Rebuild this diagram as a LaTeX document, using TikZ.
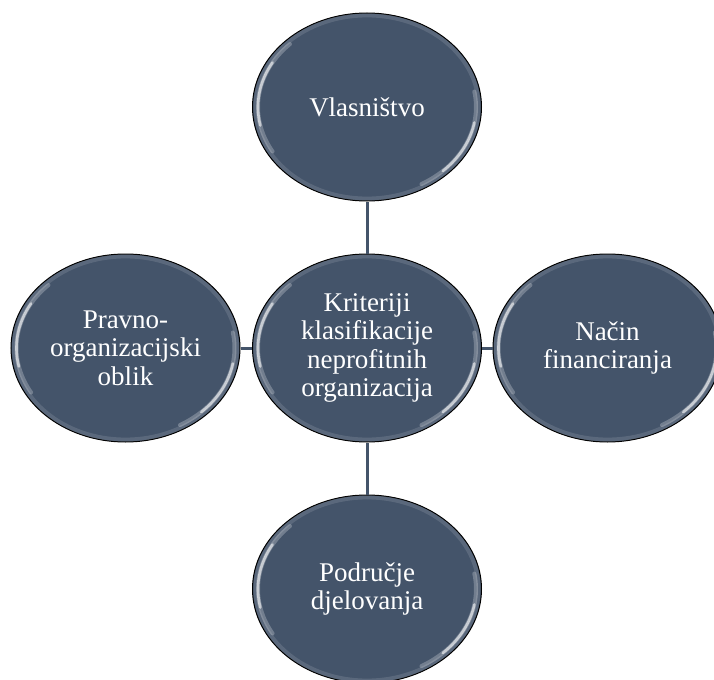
\documentclass[tikz,border=0pt]{standalone}
\usepackage{fontspec}
\setmainfont{Liberation Serif}
\usetikzlibrary{shapes.geometric}
\definecolor{slate}{HTML}{44546A}

\begin{document}
\begin{tikzpicture}
  [x=0.5pt,y=-0.5pt,line cap=round,
   % Styles
   criterion/.style={ellipse,draw=black,line width=0.5pt,fill=slate,text=white,
     minimum width=114.5pt,minimum height=94pt,inner sep=0pt,align=center,
     font=\fontsize{13.5}{14.2}\selectfont},
   link/.style={draw=slate,line width=1.5pt,line cap=butt},
   gloss/.style={white,line width=1.3pt}]

  \useasboundingbox (0,0) rectangle (714,680);

  % The graphic
  \node[criterion] (kriteriji)  at (367,348)   {Kriteriji\\klasifikacije\\neprofitnih\\organizacija};
  \node[criterion] (vlasnistvo) at (367,107)   {Vlasništvo};
  \node[criterion] (pravno)     at (125.5,348) {Pravno-\\organizacijski\\oblik};
  \node[criterion] (nacin)      at (607.5,348) {Način\\financiranja};
  \node[criterion] (podrucje)   at (367,589)   {Područje\\djelovanja};

  \foreach \n in {vlasnistvo,pravno,nacin,podrucje}
    \draw[link] (kriteriji) -- (\n);

  % Highlights
  \foreach \n in {kriteriji,vlasnistvo,pravno,nacin,podrucje} {
    \draw[white,opacity=.12,line width=2pt,shift={(\n.center)}] (0,0) ellipse [x radius=55.8pt,y radius=45.8pt];
    \draw[gloss,opacity=.25,line width=2pt,shift={(\n.center)}] (135:54.5pt and 44.5pt) arc[start angle=135,end angle=210,x radius=54.5pt,y radius=44.5pt];
    \draw[gloss,opacity=.6,shift={(\n.center)}] (150:54.5pt and 44.5pt) arc[start angle=150,end angle=192,x radius=54.5pt,y radius=44.5pt];
    \draw[gloss,opacity=.25,line width=2pt,shift={(\n.center)}] (-60:54.5pt and 44.5pt) arc[start angle=-60,end angle=10,x radius=54.5pt,y radius=44.5pt];
    \draw[gloss,opacity=.6,shift={(\n.center)}] (-46:54.5pt and 44.5pt) arc[start angle=-46,end angle=-10,x radius=54.5pt,y radius=44.5pt];
  }
\end{tikzpicture}
\end{document}
